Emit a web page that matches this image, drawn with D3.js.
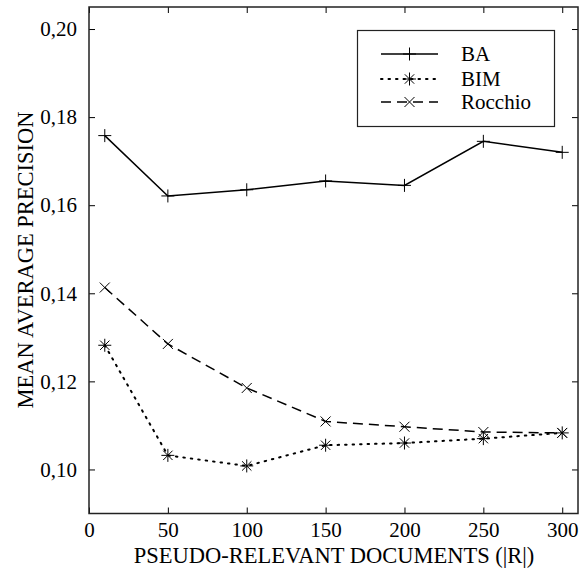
<!DOCTYPE html>
<html>
<head>
<meta charset="utf-8">
<script src="https://cdn.jsdelivr.net/npm/d3@7"></script>
<style>
  body { margin: 0; background: #fff; }
</style>
</head>
<body>
<div id="chart"></div>
<script>
// data
const docs = [10, 50, 100, 150, 200, 250, 300];
const baValues = [0.1758, 0.1621, 0.1635, 0.1655, 0.1645, 0.1745, 0.1720];
const bimValues = [0.1282, 0.1032, 0.1008, 0.1055, 0.1060, 0.1070, 0.1083];
const rocchioValues = [0.1413, 0.1285, 0.1185, 0.1109, 0.1097, 0.1085, 0.1083];
const xTicks = [0, 50, 100, 150, 200, 250, 300];
const yTicks = [0.10, 0.12, 0.14, 0.16, 0.18, 0.20];

const FONT = "'Liberation Serif', 'DejaVu Serif', 'Times New Roman', serif";
const width = 580, height = 576;
const margin = { top: 7, right: 2, bottom: 62.5, left: 89 };
const plotW = width - margin.left - margin.right;
const plotH = height - margin.top - margin.bottom;

const svg = d3.select('#chart').append('svg')
  .attr('width', width)
  .attr('height', height)
  .style('font-family', FONT);

const g = svg.append('g')
  .attr('transform', 'translate(' + margin.left + ',' + margin.top + ')');

const x = d3.scaleLinear().domain([0, 310]).range([0, plotW]);
const y = d3.scaleLinear().domain([0.09, 0.205]).range([plotH, 0]);

const fmt = d => d3.format('.2f')(d).replace('.', ',');

// axes, ticks pointing inward, mirrored on top and right
const xAxis = g.append('g')
  .attr('transform', 'translate(0,' + plotH + ')')
  .call(d3.axisBottom(x).tickValues(xTicks).tickSizeInner(-6).tickSizeOuter(0).tickPadding(9).tickFormat(d3.format('d')));
const xAxisTop = g.append('g')
  .call(d3.axisTop(x).tickValues(xTicks).tickSizeInner(-6).tickSizeOuter(0).tickFormat(''));
const yAxis = g.append('g')
  .call(d3.axisLeft(y).tickValues(yTicks).tickSizeInner(-6).tickSizeOuter(0).tickPadding(12).tickFormat(fmt));
const yAxisRight = g.append('g')
  .attr('transform', 'translate(' + plotW + ',0)')
  .call(d3.axisRight(y).tickValues(yTicks).tickSizeInner(-6).tickSizeOuter(0).tickFormat(''));

[xAxis, xAxisTop, yAxis, yAxisRight].forEach(a => {
  a.attr('font-family', null).attr('font-size', null);
  a.select('.domain').remove();
  a.selectAll('line').attr('stroke', '#000').attr('stroke-width', 1);
  a.selectAll('text')
    .style('font-family', FONT)
    .style('font-size', '21px')
    .attr('fill', '#000');
});

// frame
g.append('rect')
  .attr('width', plotW).attr('height', plotH)
  .attr('fill', 'none').attr('stroke', '#222').attr('stroke-width', 1.5);

// axis titles
svg.append('text')
  .attr('x', 334)
  .attr('y', 563)
  .attr('text-anchor', 'middle')
  .style('font-family', FONT)
  .style('font-size', '22.5px')
  .text('PSEUDO-RELEVANT DOCUMENTS (|R|)');

svg.append('text')
  .attr('transform', 'translate(33,260) rotate(-90)')
  .attr('text-anchor', 'middle')
  .style('font-family', FONT)
  .style('font-size', '22.5px')
  .text('MEAN AVERAGE PRECISION');

// marker drawing
function drawMarker(sel, type) {
  const r = 6.5;
  let arms = [];
  if (type === 'plus') arms = [[-r, 0, r, 0], [0, -r, 0, r]];
  if (type === 'cross') {
    const s = r * 0.77;
    arms = [[-s, -s, s, s], [-s, s, s, -s]];
  }
  if (type === 'star') {
    const s = r * 0.72;
    arms = [[-r, 0, r, 0], [0, -r, 0, r], [-s, -s, s, s], [-s, s, s, -s]];
  }
  arms.forEach(a => {
    sel.append('line')
      .attr('x1', a[0]).attr('y1', a[1]).attr('x2', a[2]).attr('y2', a[3])
      .attr('stroke', '#000').attr('stroke-width', 1);
  });
}

const series = [
  { name: 'BA', values: baValues, dash: null, marker: 'plus' },
  { name: 'BIM', values: bimValues, dash: '1.5,6', marker: 'star' },
  { name: 'Rocchio', values: rocchioValues, dash: '10,6', marker: 'cross' }
];

const line = d3.line()
  .x(d => x(d[0]))
  .y(d => y(d[1]));

const isDotted = s => s.dash && s.dash.startsWith('1.5');

series.forEach(s => {
  const pts = docs.map((d, i) => [d, s.values[i]]);
  g.append('path')
    .datum(pts)
    .attr('d', line)
    .attr('fill', 'none')
    .attr('stroke', '#000')
    .attr('stroke-width', isDotted(s) ? 2 : 1.5)
    .attr('stroke-linecap', isDotted(s) ? 'round' : 'butt')
    .attr('stroke-dasharray', s.dash);
  pts.forEach(p => {
    const m = g.append('g').attr('transform', 'translate(' + x(p[0]) + ',' + y(p[1]) + ')');
    drawMarker(m, s.marker);
  });
});

// legend
const legend = svg.append('g');
legend.append('rect')
  .attr('x', 357.5).attr('y', 30.5)
  .attr('width', 197).attr('height', 96)
  .attr('fill', '#fff').attr('stroke', '#222').attr('stroke-width', 1.2);

const legendRows = [54, 79, 102];
series.forEach((s, i) => {
  const ly = legendRows[i];
  legend.append('line')
    .attr('x1', 381).attr('x2', 438).attr('y1', ly).attr('y2', ly)
    .attr('stroke', '#000')
    .attr('stroke-width', isDotted(s) ? 2 : 1.5)
    .attr('stroke-linecap', isDotted(s) ? 'round' : 'butt')
    .attr('stroke-dasharray', s.dash);
  drawMarker(legend.append('g').attr('transform', 'translate(409.5,' + ly + ')'), s.marker);
  legend.append('text')
    .attr('x', 461).attr('y', ly + 7)
    .style('font-family', FONT)
    .style('font-size', '21px')
    .text(s.name);
});
</script>
</body>
</html>
